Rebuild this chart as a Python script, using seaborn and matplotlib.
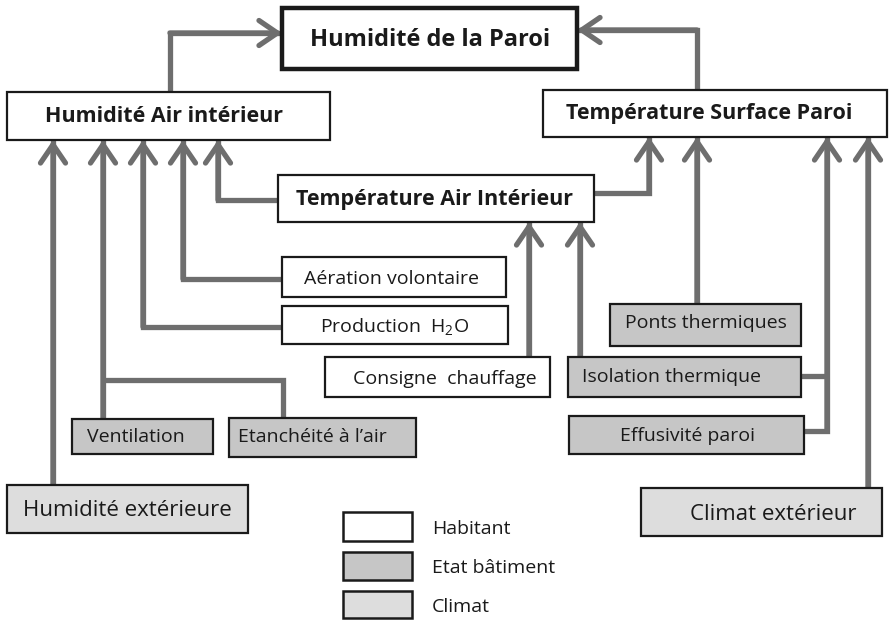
import matplotlib
matplotlib.use("Agg")
import matplotlib.pyplot as plt
import seaborn as sns
from matplotlib.patches import Rectangle

sns.set_theme(style="white")
plt.rcParams["font.family"] = ["Open Sans", "DejaVu Sans"]
plt.rcParams["mathtext.fontset"] = "custom"
plt.rcParams["mathtext.rm"] = "Open Sans"

# === Boxes: label, (x0, y0, x1, y1) in pixel coords, kind, text x, text y ===
box_labels = ["Humidité de la Paroi", "Humidité Air intérieur", "Température Surface Paroi",
              "Température Air Intérieur", "Aération volontaire", r"Production  H$_\mathregular{2}$O",
              "Consigne  chauffage", "Ventilation", "Etanchéité à l’air", "Humidité extérieure",
              "Ponts thermiques", "Isolation thermique", "Effusivité paroi", "Climat extérieur"]
box_extents = [(282, 8, 577, 69), (7, 92, 330, 140), (543, 90, 887, 137),
               (278, 175, 594, 222), (282, 257, 506, 297), (282, 306, 508, 344),
               (325, 357, 550, 397), (72, 419, 213, 454), (229, 418, 416, 457),
               (7, 485, 248, 533), (610, 304, 801, 346), (568, 357, 801, 397),
               (569, 416, 804, 454), (641, 488, 882, 536)]
box_kinds = ["main", "main", "main", "main", "Habitant", "Habitant", "Habitant",
             "Etat bâtiment", "Etat bâtiment", "Climat", "Etat bâtiment",
             "Etat bâtiment", "Etat bâtiment", "Climat"]
text_pos = [(430, 40), (164, 117), (709, 114), (435, 199), (392, 279), (395, 327),
            (445, 379), (136, 437), (312, 437), (127, 510), (706, 323), (671, 377),
            (688, 436), (773, 515)]
text_sizes = [17, 15.5, 15.5, 15.5, 14, 14, 14, 14, 14, 16, 14, 14, 14, 16]

kind_colors = {"main": "white", "Habitant": "white", "Etat bâtiment": "#c6c6c6", "Climat": "#dddddd"}

# === Arrows: polylines, the last point is the arrow tip ===
arrow_paths = [
    [(170, 92), (170, 33), (282, 33)],
    [(697, 90), (697, 30), (577, 30)],
    [(53, 485), (53, 140)],
    [(103, 419), (103, 140)],
    [(282, 327), (143, 327), (143, 140)],
    [(282, 279), (183, 279), (183, 140)],
    [(278, 200), (218, 200), (218, 140)],
    [(594, 193), (649, 193), (649, 137)],
    [(697, 304), (697, 137)],
    [(804, 431), (827, 431), (827, 137)],
    [(868, 488), (868, 137)],
    [(529, 357), (529, 222)],
    [(580, 357), (580, 222)],
]
branch_lines = [[(283, 418), (283, 380), (103, 380)], [(801, 376), (827, 376)]]

legend_labels = ["Habitant", "Etat bâtiment", "Climat"]
legend_boxes = [(343, 512, 412, 541), (343, 552, 412, 580), (343, 591, 412, 618)]

arrow_color = "#6e6e6e"

fig = plt.figure(figsize=(8.89, 6.2), dpi=100)
ax = fig.add_axes([0, 0, 1, 1])
ax.set_xlim(0, 889)
ax.set_ylim(620, 0)
ax.axis("off")

for path in arrow_paths:
    xs, ys = zip(*path)
    ax.plot(xs, ys, color=arrow_color, lw=3.8, solid_joinstyle="miter",
            solid_capstyle="butt", zorder=1)
    ax.annotate("", xy=path[-1], xytext=path[-2],
                arrowprops=dict(arrowstyle="->,head_length=1.1,head_width=0.75",
                                lw=3.8, color=arrow_color, shrinkA=0, shrinkB=0),
                zorder=1)
for line in branch_lines:
    xs, ys = zip(*line)
    ax.plot(xs, ys, color=arrow_color, lw=3.8, solid_joinstyle="miter",
            solid_capstyle="butt", zorder=1)

for label, (x0, y0, x1, y1), kind, (tx, ty), fs in zip(box_labels, box_extents, box_kinds,
                                                        text_pos, text_sizes):
    lw = 3.2 if label == "Humidité de la Paroi" else 1.6
    ax.add_patch(Rectangle((x0, y0), x1 - x0, y1 - y0, facecolor=kind_colors[kind],
                           edgecolor="#1a1a1a", lw=lw, zorder=2))
    weight = "bold" if kind == "main" else "normal"
    ax.text(tx, ty, label, ha="center", va="center", fontsize=fs, fontweight=weight,
            color="#1a1a1a", zorder=3)

for label, (x0, y0, x1, y1) in zip(legend_labels, legend_boxes):
    ax.add_patch(Rectangle((x0, y0), x1 - x0, y1 - y0, facecolor=kind_colors[label],
                           edgecolor="#1a1a1a", lw=1.8, zorder=2))
    ax.text(432, (y0 + y1) / 2 + 2, label, ha="left", va="center", fontsize=14, color="#1a1a1a")

fig.savefig("out.png", dpi=100, facecolor="white")
